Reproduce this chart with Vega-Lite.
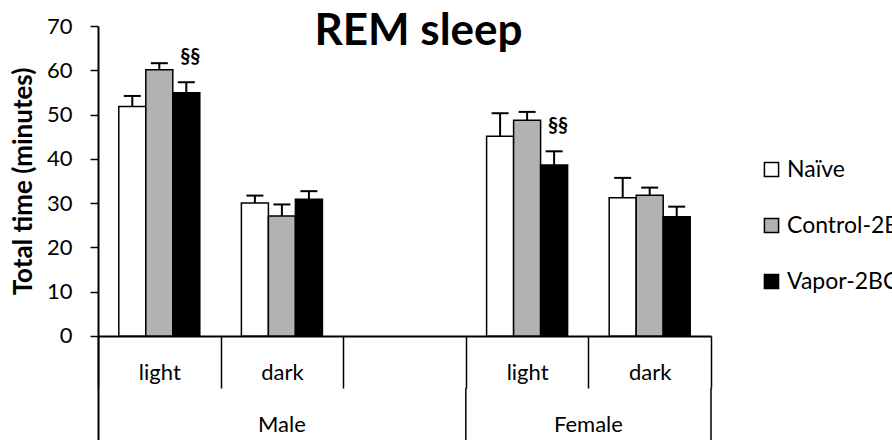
{
  "$schema": "https://vega.github.io/schema/vega-lite/v6.json",
  "width": 613,
  "height": 414,
  "autosize": "none",
  "padding": {"left": 98, "top": 26, "right": 181, "bottom": 0},
  "background": "white",
  "config": {"font": "Lato", "view": {"stroke": null}},
  "title": {"text": "REM sleep", "fontSize": 44, "fontWeight": "bold", "color": "black", "anchor": "middle", "offset": -39, "dx": 14},
  "data": {
    "values": [
      {"cat": "Male|light", "group": "Naïve", "mean": 51.8, "upper": 54.2, "sig": ""},
      {"cat": "Male|light", "group": "Control-2BC", "mean": 60.1, "upper": 61.6, "sig": ""},
      {"cat": "Male|light", "group": "Vapor-2BC", "mean": 54.9, "upper": 57.3, "sig": "§§"},
      {"cat": "Male|dark", "group": "Naïve", "mean": 30.0, "upper": 31.7, "sig": ""},
      {"cat": "Male|dark", "group": "Control-2BC", "mean": 27.1, "upper": 29.7, "sig": ""},
      {"cat": "Male|dark", "group": "Vapor-2BC", "mean": 30.9, "upper": 32.7, "sig": ""},
      {"cat": "Female|light", "group": "Naïve", "mean": 45.1, "upper": 50.3, "sig": ""},
      {"cat": "Female|light", "group": "Control-2BC", "mean": 48.7, "upper": 50.6, "sig": ""},
      {"cat": "Female|light", "group": "Vapor-2BC", "mean": 38.6, "upper": 41.7, "sig": "§§"},
      {"cat": "Female|dark", "group": "Naïve", "mean": 31.2, "upper": 35.7, "sig": ""},
      {"cat": "Female|dark", "group": "Control-2BC", "mean": 31.8, "upper": 33.5, "sig": ""},
      {"cat": "Female|dark", "group": "Vapor-2BC", "mean": 26.9, "upper": 29.2, "sig": ""}
    ]
  },
  "layer": [
    {
      "mark": {"type": "bar", "stroke": "black", "strokeWidth": 1.5},
      "encoding": {
        "x": {
          "field": "cat", "type": "nominal",
          "scale": {"domain": ["Male|light", "Male|dark", "Male|gap", "Female|light", "Female|dark"], "paddingInner": 0, "paddingOuter": 0},
          "axis": {
            "orient": "bottom",
            "offset": -104,
            "title": null,
            "labelExpr": "(datum.value === 'Male|light' || datum.value === 'Female|light') ? 'light' : ((datum.value === 'Male|dark' || datum.value === 'Female|dark') ? 'dark' : '')",
            "labelAngle": 0,
            "labelFontSize": 22,
            "labelColor": "black",
            "labelPadding": -26,
            "tickBand": "extent",
            "tickSize": 52,
            "tickColor": "black",
            "tickWidth": 1.5,
            "domainColor": "black",
            "domainWidth": 2
          }
        },
        "xOffset": {
          "field": "group", "type": "nominal",
          "scale": {"domain": ["Naïve", "Control-2BC", "Vapor-2BC"], "paddingInner": 0, "paddingOuter": 0.77}
        },
        "y": {
          "field": "mean", "type": "quantitative",
          "scale": {"domain": [-23.5, 70], "nice": false, "zero": false},
          "axis": {
            "title": "Total time (minutes)",
            "titleFontSize": 26,
            "titleFontWeight": "bold",
            "titleColor": "black",
            "titlePadding": 10,
            "titleY": 155,
            "values": [0, 10, 20, 30, 40, 50, 60, 70],
            "grid": false,
            "labelFontSize": 22,
            "labelColor": "black",
            "labelPadding": 18,
            "tickSize": 8,
            "tickColor": "black",
            "tickWidth": 1.5,
            "domainColor": "black",
            "domainWidth": 2
          }
        },
        "y2": {"datum": 0},
        "fill": {
          "field": "group", "type": "nominal",
          "scale": {"domain": ["Naïve", "Control-2BC", "Vapor-2BC"], "range": ["#ffffff", "#b2b2b2", "#000000"]},
          "legend": {
            "title": null,
            "orient": "none",
            "legendX": 662,
            "legendY": 132,
            "padding": 0,
            "symbolType": "square",
            "symbolSize": 200,
            "symbolStrokeColor": "black",
            "symbolStrokeWidth": 1.5,
            "labelFontSize": 23,
            "labelColor": "black",
            "labelOffset": 4,
            "rowPadding": 32
          }
        }
      }
    },
    {
      "mark": {"type": "rule", "color": "black", "strokeWidth": 2},
      "encoding": {
        "x": {"field": "cat", "type": "nominal"},
        "xOffset": {"field": "group", "type": "nominal"},
        "y": {"field": "mean", "type": "quantitative"},
        "y2": {"field": "upper"}
      }
    },
    {
      "mark": {"type": "point", "shape": "M-1,0L1,0", "filled": false, "size": 289, "strokeWidth": 2, "color": "black", "opacity": 1},
      "encoding": {
        "x": {"field": "cat", "type": "nominal"},
        "xOffset": {"field": "group", "type": "nominal"},
        "y": {"field": "upper", "type": "quantitative"}
      }
    },
    {
      "mark": {"type": "text", "color": "black", "fontSize": 20, "fontWeight": "bold", "baseline": "middle", "dy": -25, "dx": 4},
      "encoding": {
        "x": {"field": "cat", "type": "nominal"},
        "xOffset": {"field": "group", "type": "nominal"},
        "y": {"field": "upper", "type": "quantitative"},
        "text": {"field": "sig"}
      }
    },
    {
      "data": {"values": [{}]},
      "mark": {"type": "rule", "color": "black", "strokeWidth": 1.5},
      "encoding": {
        "x": {"datum": "Female|light", "type": "nominal", "bandPosition": 0},
        "y": {"datum": -11.75, "type": "quantitative"},
        "y2": {"datum": -23.5}
      }
    },
    {
      "data": {"values": [{}]},
      "mark": {"type": "rule", "color": "black", "strokeWidth": 1.5},
      "encoding": {
        "x": {"datum": "Female|dark", "type": "nominal", "bandPosition": 1},
        "y": {"datum": -11.75, "type": "quantitative"},
        "y2": {"datum": -23.5}
      }
    },
    {
      "data": {"values": [{}]},
      "mark": {"type": "text", "color": "black", "fontSize": 22, "align": "center", "baseline": "middle"},
      "encoding": {
        "x": {"datum": "Male|dark", "type": "nominal"},
        "y": {"datum": -20.2, "type": "quantitative"},
        "text": {"value": "Male"}
      }
    },
    {
      "data": {"values": [{}]},
      "mark": {"type": "text", "color": "black", "fontSize": 22, "align": "center", "baseline": "middle"},
      "encoding": {
        "x": {"datum": "Female|dark", "type": "nominal", "bandPosition": 0},
        "y": {"datum": -20.2, "type": "quantitative"},
        "text": {"value": "Female"}
      }
    }
  ]
}
